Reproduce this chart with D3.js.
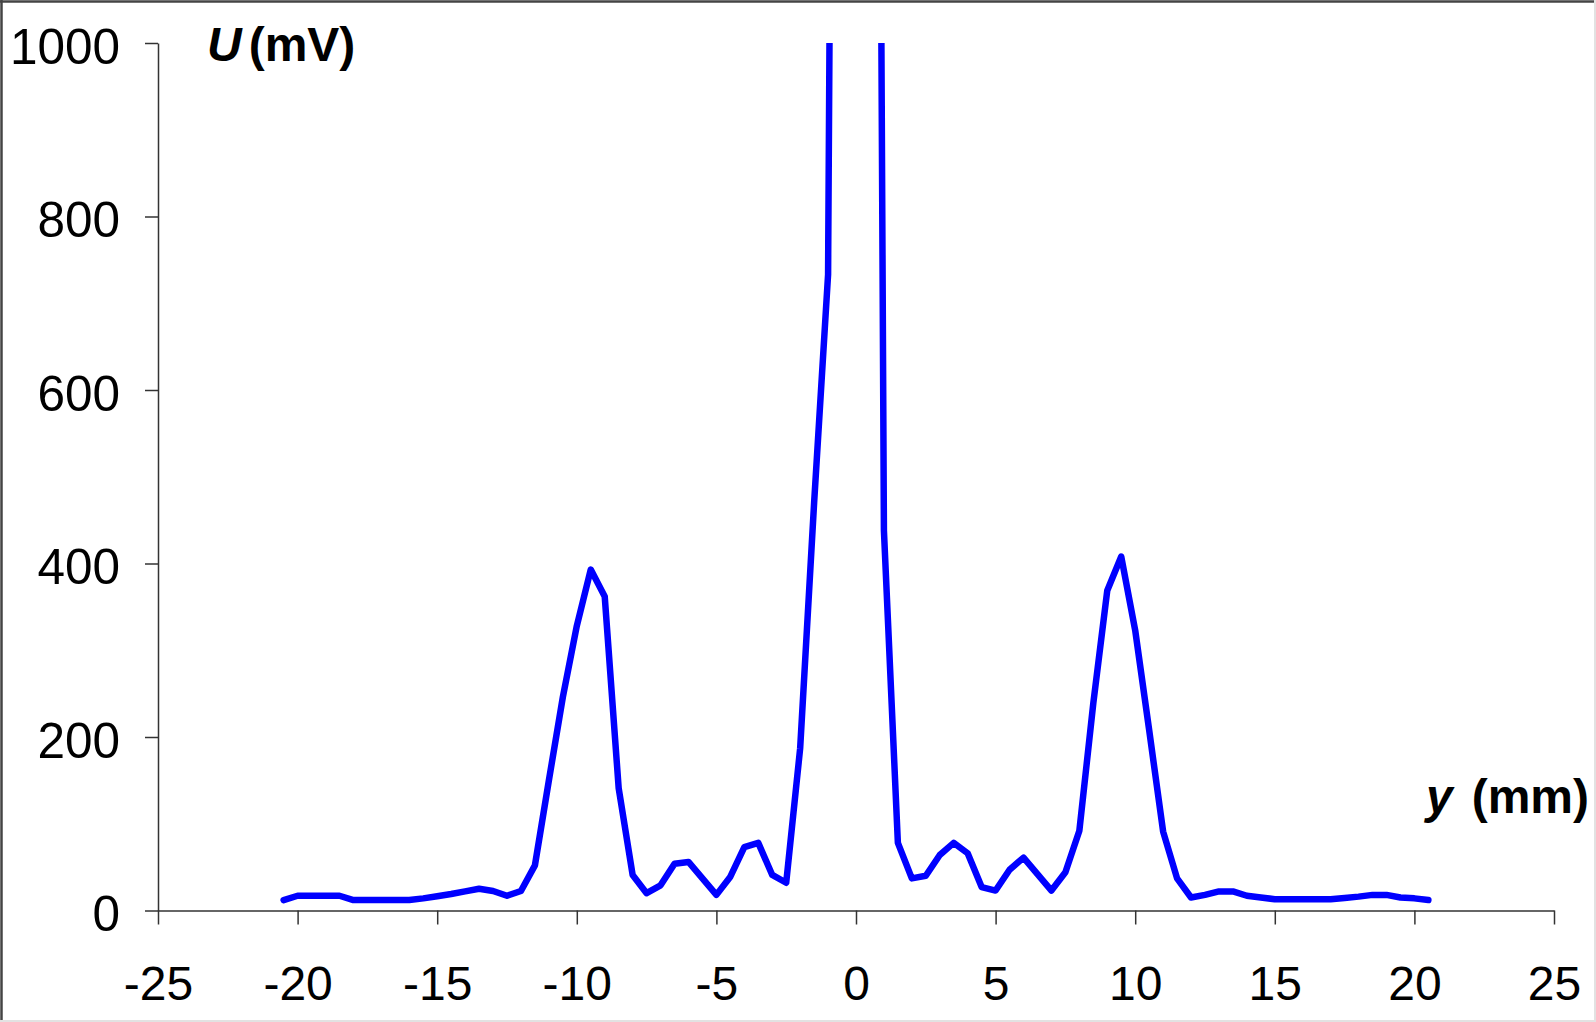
<!DOCTYPE html>
<html>
<head>
<meta charset="utf-8">
<script src="https://cdn.jsdelivr.net/npm/d3@7"></script>
<style>
  html, body { margin: 0; padding: 0; background: #fff; }
  svg { display: block; font-family: "Liberation Sans", Arial, sans-serif; }
</style>
</head>
<body>
<div id="chart"></div>
<script>
// position along y (mm) and detector voltage U (mV)
var yPos = [-20.5, -20, -19.5, -19, -18.5, -18, -17.5, -17, -16.5, -16, -15.5, -15, -14.5, -14, -13.5, -13, -12.5, -12,
  -11.5, -11, -10.5, -10, -9.5, -9, -8.5, -8, -7.5, -7, -6.5, -6, -5.5, -5, -4.5, -4, -3.5, -3, -2.5, -2, -1.5, -1, -0.5,
  0.5, 1, 1.5, 2, 2.5, 3, 3.5, 4, 4.5, 5, 5.5, 6, 6.5, 7, 7.5, 8, 8.5, 9, 9.5, 10, 10.5, 11, 11.5, 12, 12.5, 13, 13.5,
  14, 14.5, 15, 15.5, 16, 16.5, 17, 17.5, 18, 18.5, 19, 19.5, 20, 20.5];
var voltage = [12, 17, 17, 17, 17, 12, 12, 12, 12, 12, 14, 16.5, 19, 22, 25, 22.5, 17, 22.5,
  52, 150, 246, 328, 393, 362, 141, 41, 20, 29, 54, 56, 37, 18, 39, 73, 78, 41, 32, 187, 470, 733, 3400,
  3550, 438, 78, 37, 40, 64, 78, 66, 27, 23, 47, 61, 42, 23, 44, 92, 239, 369, 408, 323, 208, 91, 37, 15, 18, 22, 22,
  17, 15, 13, 13, 13, 13, 13, 14.5, 16, 18, 18, 15, 14, 12];

var xTicks = [-25, -20, -15, -10, -5, 0, 5, 10, 15, 20, 25];
var yTicks = [0, 200, 400, 600, 800, 1000];

var W = 1596, H = 1022;
var plotL = 158, plotR = 1554, plotT = 43, plotB = 910.5;

var svg = d3.select('#chart').append('svg')
  .attr('width', W)
  .attr('height', H);

// outer frame
svg.append('line').attr('x1', 0).attr('x2', W).attr('y1', 1.5).attr('y2', 1.5)
  .style('stroke', '#444').style('stroke-width', '2.5px');
svg.append('line').attr('x1', 1.5).attr('x2', 1.5).attr('y1', 0).attr('y2', H)
  .style('stroke', '#444').style('stroke-width', '2.5px');
svg.append('line').attr('x1', W - 1).attr('x2', W - 1).attr('y1', 0).attr('y2', H)
  .style('stroke', '#e2e2e2').style('stroke-width', '2px');
svg.append('line').attr('x1', 0).attr('x2', W).attr('y1', H - 1).attr('y2', H - 1)
  .style('stroke', '#e2e2e2').style('stroke-width', '2px');

var x = d3.scaleLinear().domain([-25, 25]).range([plotL, plotR]);
var y = d3.scaleLinear().domain([0, 1000]).range([plotB, plotT]);

svg.append('clipPath').attr('id', 'plotclip')
  .append('rect')
  .attr('x', plotL).attr('y', plotT)
  .attr('width', plotR - plotL).attr('height', plotB - plotT);

// axes
var yAxis = svg.append('g')
  .attr('transform', 'translate(' + plotL + ',0)')
  .call(d3.axisLeft(y).tickValues(yTicks).tickSize(13).tickSizeOuter(0).tickFormat(d3.format('d')));

var xAxis = svg.append('g')
  .attr('transform', 'translate(0,' + plotB + ')')
  .call(d3.axisBottom(x).tickValues(xTicks).tickSize(14).tickSizeOuter(0).tickFormat(d3.format('d')));

[yAxis, xAxis].forEach(function(a) {
  a.selectAll('path, line').style('stroke', '#333').style('stroke-width', '1.5px');
  a.selectAll('text')
    .style('font-family', '"Liberation Sans", Arial, sans-serif')
    .style('font-size', '48px')
    .style('fill', '#000');
});
yAxis.selectAll('text').attr('x', -38).attr('dy', '0.41em').style('font-size', '49.5px');
xAxis.selectAll('text').attr('y', 55).attr('dy', '0.71em')
  .text(function(d) { return d < 0 ? '-' + Math.abs(d) : d; });

// data line
var line = d3.line()
  .x(function(d, i) { return x(yPos[i]); })
  .y(function(d) { return y(d); });

svg.append('g').attr('clip-path', 'url(#plotclip)')
  .append('path')
  .datum(voltage)
  .attr('d', line)
  .style('fill', 'none')
  .style('stroke', '#0000ff')
  .style('stroke-width', '6.5px')
  .style('stroke-linejoin', 'round')
  .style('stroke-linecap', 'round');

// axis titles
var ut = svg.append('text')
  .attr('x', 207).attr('y', 61)
  .style('font-size', '48px').style('font-weight', 'bold');
ut.append('tspan').style('font-style', 'italic').text('U');
ut.append('tspan').attr('dx', 7).text('(mV)');

var yt = svg.append('text')
  .attr('x', 1426).attr('y', 813)
  .style('font-size', '48px').style('font-weight', 'bold');
yt.append('tspan').style('font-style', 'italic').text('y');
yt.append('tspan').attr('dx', 19).text('(mm)');
</script>
</body>
</html>
